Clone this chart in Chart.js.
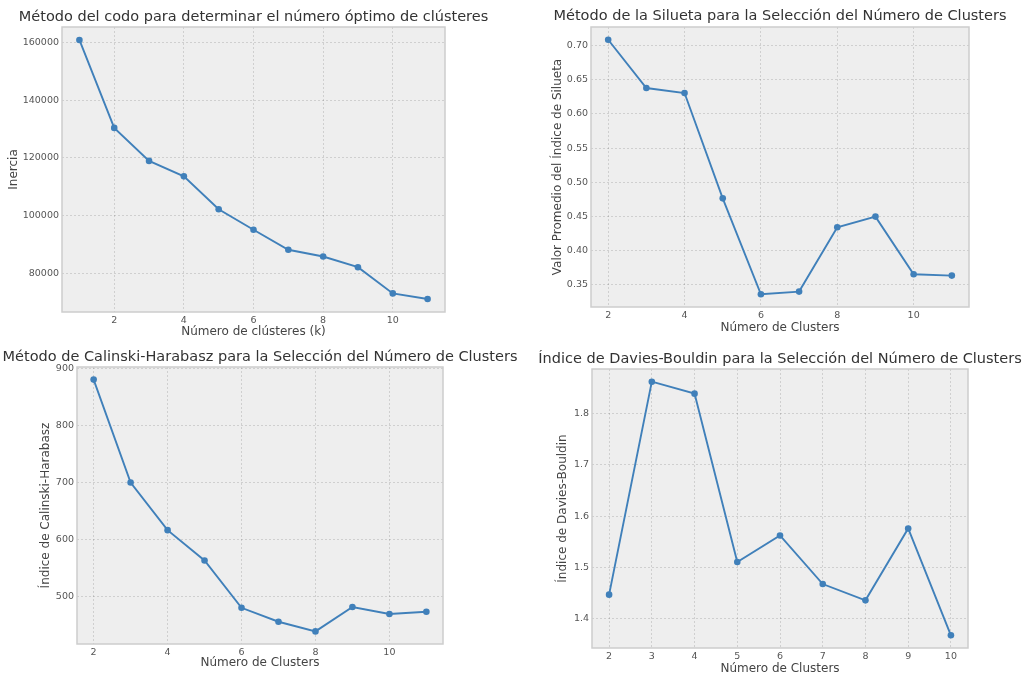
<!DOCTYPE html>
<html>
<head>
<meta charset="utf-8">
<script src="https://cdn.jsdelivr.net/npm/chart.js@4.4.1/dist/chart.umd.min.js"></script>
<style>
  body { margin: 0; background: #fff; width: 1026px; height: 677px; overflow: hidden; position: relative; }
  canvas { position: absolute; }
</style>
</head>
<body>
<canvas id="codoChart" width="510" height="340" style="left:0;top:0"></canvas>
<canvas id="siluetaChart" width="516" height="340" style="left:510px;top:0"></canvas>
<canvas id="calinskiChart" width="530" height="337" style="left:0;top:340px"></canvas>
<canvas id="daviesChart" width="506" height="337" style="left:520px;top:340px"></canvas>
<script>
// valores
const kCodo = [1, 2, 3, 4, 5, 6, 7, 8, 9, 10, 11];
const inercia = [160900, 130400, 118950, 113600, 102200, 95100, 88150, 85800, 82100, 73000, 71050];

const kSilueta = [2, 3, 4, 5, 6, 7, 8, 9, 10, 11];
const silueta = [0.7083, 0.6377, 0.6304, 0.4765, 0.3363, 0.3402, 0.4342, 0.4498, 0.3655, 0.3636];

const kCalinski = [2, 3, 4, 5, 6, 7, 8, 9, 10, 11];
const calinski = [880.7, 700, 616.3, 563, 480, 455.5, 438.5, 481.3, 469, 473];

const kDavies = [2, 3, 4, 5, 6, 7, 8, 9, 10];
const davies = [1.4468, 1.8623, 1.839, 1.5104, 1.5623, 1.4675, 1.4357, 1.576, 1.3675];

const xTicksPar = [2, 4, 6, 8, 10];
const xTicksDavies = [2, 3, 4, 5, 6, 7, 8, 9, 10];
const yTicksCodo = [80000, 100000, 120000, 140000, 160000];
const yTicksSilueta = [0.35, 0.40, 0.45, 0.50, 0.55, 0.60, 0.65, 0.70];
const yTicksCalinski = [500, 600, 700, 800, 900];
const yTicksDavies = [1.4, 1.5, 1.6, 1.7, 1.8];

Chart.defaults.font.family = '"DejaVu Sans", sans-serif';

const BLUE = '#4080ba';
const TICK_COLOR = '#555555';
const LABEL_COLOR = '#444444';
const GRID_COLOR = 'rgba(0,0,0,0.13)';

// margen de 5% como matplotlib
const padRange = (vals) => {
    const lo = Math.min(...vals), hi = Math.max(...vals);
    const m = (hi - lo) * 0.05;
    return [lo - m, hi + m];
};

const panelDecor = {
    id: 'panelDecor',
    beforeDraw(chart) {
        const { ctx, chartArea: a } = chart;
        ctx.save();
        ctx.fillStyle = '#eeeeee';
        ctx.fillRect(a.left, a.top, a.width, a.height);
        ctx.restore();
    },
    afterDraw(chart, args, opts) {
        const { ctx, chartArea: a } = chart;
        ctx.save();
        ctx.strokeStyle = '#cdcdcd';
        ctx.lineWidth = 1.5;
        ctx.strokeRect(a.left, a.top, a.width, a.height);
        ctx.fillStyle = '#333333';
        ctx.font = '14.5px "DejaVu Sans"';
        ctx.textAlign = 'center';
        ctx.textBaseline = 'middle';
        ctx.fillText(opts.title, (a.left + a.right) / 2, opts.titleY);
        ctx.restore();
    }
};

function makePanel(id, cfg) {
    const [yMin, yMax] = padRange(cfg.ys);
    const [xMin, xMax] = padRange(cfg.xs);
    const tickFont = { size: 9.5 };
    const labelFont = { size: 12 };
    return new Chart(document.getElementById(id), {
        type: 'line',
        data: {
            datasets: [{
                data: cfg.xs.map((x, i) => ({ x, y: cfg.ys[i] })),
                borderColor: BLUE,
                backgroundColor: BLUE,
                borderWidth: 1.9,
                pointRadius: 3.3,
                pointHoverRadius: 3.3,
                pointBorderWidth: 0,
                tension: 0
            }]
        },
        options: {
            responsive: false,
            animation: false,
            events: [],
            layout: { padding: { top: cfg.top, right: cfg.right, left: 0, bottom: 0 } },
            plugins: {
                legend: { display: false },
                tooltip: { enabled: false },
                panelDecor: { title: cfg.title, titleY: cfg.titleY }
            },
            scales: {
                x: {
                    type: 'linear',
                    min: xMin,
                    max: xMax,
                    afterBuildTicks: s => { s.ticks = cfg.xTicks.map(v => ({ value: v })); },
                    afterFit: s => { s.height = cfg.xHeight; },
                    ticks: { padding: 3, color: TICK_COLOR, font: tickFont, callback: v => String(v) },
                    grid: { color: GRID_COLOR, lineWidth: 1, drawTicks: false },
                    border: { display: false, dash: [2, 2] },
                    title: { display: true, text: cfg.xLabel, color: LABEL_COLOR, font: labelFont, padding: { top: 0, bottom: cfg.xTitlePad } }
                },
                y: {
                    min: yMin,
                    max: yMax,
                    afterBuildTicks: s => { s.ticks = cfg.yTicks.map(v => ({ value: v })); },
                    afterFit: s => { s.width = cfg.yWidth; },
                    ticks: { padding: 3, color: TICK_COLOR, font: tickFont, callback: cfg.yFmt },
                    grid: { color: GRID_COLOR, lineWidth: 1, drawTicks: false },
                    border: { display: false, dash: [2, 2] },
                    title: { display: true, text: cfg.yLabel, color: LABEL_COLOR, font: labelFont, padding: { top: cfg.yTitlePad, bottom: 0 } }
                }
            }
        },
        plugins: [panelDecor]
    });
}

makePanel('codoChart', {
    xs: kCodo, ys: inercia, xTicks: xTicksPar, yTicks: yTicksCodo,
    yFmt: v => String(v),
    title: 'Método del codo para determinar el número óptimo de clústeres', titleY: 17,
    xLabel: 'Número de clústeres (k)', yLabel: 'Inercia',
    top: 27, right: 65, xHeight: 28, yWidth: 62, xTitlePad: 0.8, yTitlePad: 7
});

makePanel('siluetaChart', {
    xs: kSilueta, ys: silueta, xTicks: xTicksPar, yTicks: yTicksSilueta,
    yFmt: v => v.toFixed(2),
    title: 'Método de la Silueta para la Selección del Número de Clusters', titleY: 16,
    xLabel: 'Número de Clusters', yLabel: 'Valor Promedio del Índice de Silueta',
    top: 27, right: 57, xHeight: 33, yWidth: 81, xTitlePad: 4.8, yTitlePad: 40.8
});

makePanel('calinskiChart', {
    xs: kCalinski, ys: calinski, xTicks: xTicksPar, yTicks: yTicksCalinski,
    yFmt: v => String(v),
    title: 'Método de Calinski-Harabasz para la Selección del Número de Clusters', titleY: 17,
    xLabel: 'Número de Clusters', yLabel: 'Índice de Calinski-Harabasz',
    top: 27, right: 87, xHeight: 33, yWidth: 77, xTitlePad: 6.8, yTitlePad: 38.8
});

makePanel('daviesChart', {
    xs: kDavies, ys: davies, xTicks: xTicksDavies, yTicks: yTicksDavies,
    yFmt: v => v.toFixed(1),
    title: 'Índice de Davies-Bouldin para la Selección del Número de Clusters', titleY: 19,
    xLabel: 'Número de Clusters', yLabel: 'Índice de Davies-Bouldin',
    top: 29, right: 58, xHeight: 29, yWidth: 72, xTitlePad: 0.8, yTitlePad: 35.8
});
</script>
</body>
</html>
